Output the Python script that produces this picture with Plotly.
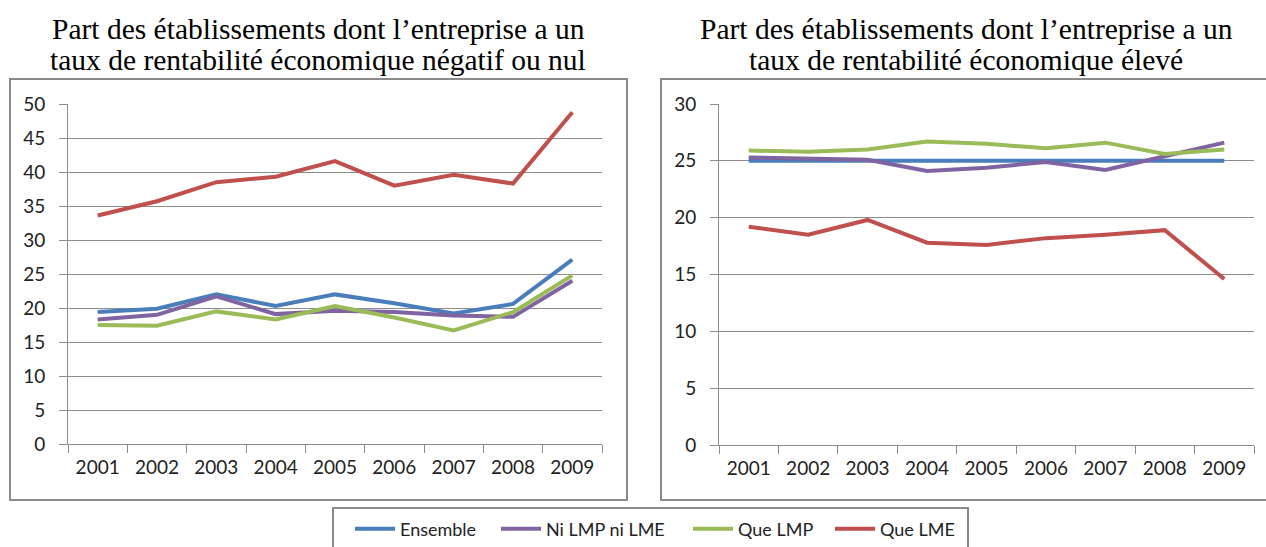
import plotly.graph_objects as go

years = ["2001", "2002", "2003", "2004", "2005", "2006", "2007", "2008", "2009"]
series_names = ["Ensemble", "Ni LMP ni LME", "Que LMP", "Que LME"]
colors = ["#4A7EBB", "#8064A2", "#9BBB59", "#C0504D"]

# Left panel: négatif ou nul
left_ensemble = [19.4, 19.9, 22.0, 20.3, 22.0, 20.7, 19.2, 20.6, 27.1]
left_ni = [18.3, 19.0, 21.7, 19.1, 19.6, 19.4, 18.9, 18.7, 24.0]
left_lmp = [17.5, 17.4, 19.5, 18.3, 20.3, 18.6, 16.7, 19.4, 24.8]
left_lme = [33.6, 35.7, 38.5, 39.3, 41.6, 38.0, 39.6, 38.3, 48.8]

# Right panel: élevé
right_ensemble = [25.0, 25.0, 25.0, 25.0, 25.0, 25.0, 25.0, 25.0, 25.0]
right_ni = [25.3, 25.2, 25.1, 24.1, 24.4, 24.9, 24.2, 25.4, 26.6]
right_lmp = [25.9, 25.8, 26.0, 26.7, 26.5, 26.1, 26.6, 25.6, 26.0]
right_lme = [19.2, 18.5, 19.8, 17.8, 17.6, 18.2, 18.5, 18.9, 14.6]

title_left = ["Part des établissements dont l’entreprise a un",
              "taux de rentabilité économique négatif ou nul"]
title_right = ["Part des établissements dont l’entreprise a un",
               "taux de rentabilité économique élevé"]

W, H = 1266, 547

def px_x(v):
    return v / W

def px_y(v):
    return 1 - v / H

fig = go.Figure()

left_data = [left_ensemble, left_ni, left_lmp, left_lme]
right_data = [right_ensemble, right_ni, right_lmp, right_lme]
legend_widths = [91, 137, 87, 80]

for name, col, vals, lw in zip(series_names, colors, left_data, legend_widths):
    fig.add_trace(go.Scatter(x=years, y=vals, mode="lines", name=name,
                             line=dict(color=col, width=4), xaxis="x", yaxis="y",
                             legendgroup=name, showlegend=True, legendwidth=lw))
for name, col, vals in zip(series_names, colors, right_data):
    fig.add_trace(go.Scatter(x=years, y=vals, mode="lines", name=name,
                             line=dict(color=col, width=4), xaxis="x2", yaxis="y2",
                             legendgroup=name, showlegend=False))

tick_font = dict(family="Lato", size=19, color="#222222")
axis_gray = "#8c8c8c"

xcommon = dict(type="category", range=[-0.5, 8.5], tickson="boundaries",
               ticks="outside", ticklen=8, tickcolor=axis_gray, showline=True,
               linecolor=axis_gray, linewidth=1, showgrid=False, zeroline=False,
               tickfont=tick_font, ticklabelstandoff=6, fixedrange=True,
               automargin=False)
ycommon = dict(ticks="outside", ticklen=8, tickcolor=axis_gray, showline=True,
               linecolor=axis_gray, linewidth=1, showgrid=True, gridcolor=axis_gray,
               gridwidth=1, zeroline=False, tickfont=tick_font, dtick=5,
               ticklabelstandoff=10, fixedrange=True, automargin=False)

title_font = dict(family="Liberation Serif", size=29.5, color="black")
annotations = []
for cx, lines in ((318, title_left), (966, title_right)):
    for cy, txt in zip((29, 60), lines):
        annotations.append(dict(text=txt, x=px_x(cx), y=px_y(cy), xref="paper", yref="paper",
                                xanchor="center", yanchor="middle", showarrow=False,
                                font=title_font))

fig.update_layout(
    width=W, height=H,
    margin=dict(l=0, r=0, t=0, b=0, autoexpand=False),
    paper_bgcolor="white", plot_bgcolor="white",
    xaxis=dict(domain=[px_x(68), px_x(602)], anchor="y", **xcommon),
    yaxis=dict(domain=[px_y(444), px_y(104)], anchor="x", range=[0, 50], **ycommon),
    xaxis2=dict(domain=[px_x(719), px_x(1254)], anchor="y2", **xcommon),
    yaxis2=dict(domain=[px_y(445), px_y(104)], anchor="x2", range=[0, 30], **ycommon),
    showlegend=True,
    legend=dict(orientation="h", xref="container", yref="container",
                x=px_x(350), xanchor="left", y=px_y(529), yanchor="middle",
                font=dict(family="Lato", size=18, color="#222222"),
                borderwidth=0, bgcolor="rgba(0,0,0,0)",
                itemwidth=40, tracegroupgap=0),
    annotations=annotations,
    shapes=[
        dict(type="rect", xref="paper", yref="paper", x0=px_x(10), x1=px_x(627),
             y0=px_y(500), y1=px_y(79), line=dict(color="#8a8a8a", width=2)),
        dict(type="rect", xref="paper", yref="paper", x0=px_x(661), x1=px_x(1275),
             y0=px_y(500), y1=px_y(79), line=dict(color="#8a8a8a", width=2)),
        dict(type="rect", xref="paper", yref="paper", x0=px_x(333), x1=px_x(968),
             y0=px_y(552), y1=px_y(508), line=dict(color="#8a8a8a", width=2)),
    ],
)

fig.write_html("out.html", config={"displayModeBar": False},
               post_script="document.body.style.margin='0';document.body.style.overflow='hidden';")
